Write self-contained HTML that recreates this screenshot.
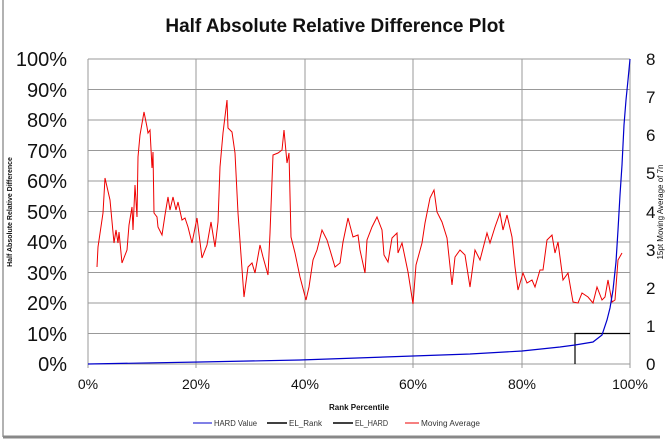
<!DOCTYPE html>
<html><head><meta charset="utf-8"><style>
body{margin:0;background:#fff;}
svg{display:block;font-family:"Liberation Sans",sans-serif;}
</style></head><body>
<svg width="670" height="443" viewBox="0 0 670 443" xmlns="http://www.w3.org/2000/svg">
<rect x="0" y="0" width="670" height="443" fill="#fff"/>
<line x1="3" y1="0" x2="3" y2="437" stroke="#999" stroke-width="1.5"/>
<line x1="3" y1="437" x2="660" y2="437" stroke="#888" stroke-width="3"/>
<text x="335" y="32" text-anchor="middle" font-size="19" font-weight="bold" fill="#111">Half Absolute Relative Difference Plot</text>
<g stroke="#999" stroke-width="1">
<line x1="88" y1="59" x2="630" y2="59"/><line x1="88" y1="89.5" x2="630" y2="89.5"/><line x1="88" y1="120" x2="630" y2="120"/><line x1="88" y1="150.5" x2="630" y2="150.5"/><line x1="88" y1="181" x2="630" y2="181"/><line x1="88" y1="211.5" x2="630" y2="211.5"/><line x1="88" y1="242" x2="630" y2="242"/><line x1="88" y1="272.5" x2="630" y2="272.5"/><line x1="88" y1="303" x2="630" y2="303"/><line x1="88" y1="333.5" x2="630" y2="333.5"/><line x1="88" y1="364" x2="630" y2="364"/>
<line x1="196" y1="59" x2="196" y2="368"/><line x1="305" y1="59" x2="305" y2="368"/><line x1="413" y1="59" x2="413" y2="368"/><line x1="522" y1="59" x2="522" y2="368"/><line x1="630" y1="59" x2="630" y2="368"/><line x1="88" y1="59" x2="88" y2="368"/>
</g>
<g font-size="20" fill="#111" text-anchor="end">
<text x="67" y="66">100%</text><text x="67" y="97">90%</text><text x="67" y="127">80%</text><text x="67" y="158">70%</text><text x="67" y="188">60%</text><text x="67" y="219">50%</text><text x="67" y="249">40%</text><text x="67" y="280">30%</text><text x="67" y="310">20%</text><text x="67" y="341">10%</text><text x="67" y="371">0%</text>
</g>
<g font-size="17" fill="#111">
<text x="646" y="65">8</text><text x="646" y="103">7</text><text x="646" y="141">6</text><text x="646" y="179">5</text><text x="646" y="218">4</text><text x="646" y="256">3</text><text x="646" y="294">2</text><text x="646" y="332">1</text><text x="646" y="370">0</text>
</g>
<g font-size="14" fill="#111" text-anchor="middle">
<text x="88" y="389">0%</text><text x="196" y="389">20%</text><text x="305" y="389">40%</text><text x="413" y="389">60%</text><text x="522" y="389">80%</text><text x="630" y="389">100%</text>
</g>
<text x="359" y="410" text-anchor="middle" font-size="8" font-weight="bold" fill="#111">Rank Percentile</text>
<text transform="translate(12,212) rotate(-90)" text-anchor="middle" font-size="7" font-weight="bold" fill="#111">Half Absolute Relative Difference</text>
<text transform="translate(663,212) rotate(-90)" text-anchor="middle" font-size="8" fill="#111">15pt Moving Average of 7n</text>
<polyline fill="none" stroke="#e00" stroke-width="1" points="97,267 98,247 103,213 105,178 110,200 114,243 116,230 118,243 119,232 122,263 127,250 129,225 132,207 133,230 135,185 137,217 138,157 140,135 144,112 147,127 148,133 150,130 152,168 153,152 154,213 157,217 158,227 162,235 165,215 168,197 170,210 173,197 176,210 178,202 182,220 185,218 188,227 192,243 197,218 202,258 207,245 211,222 215,247 218,222 220,167 223,133 227,100 228,128 232,132 235,153 238,213 244,297 248,267 252,263 255,273 260,245 263,257 268,275 270,233 273,155 278,153 282,150 284,130 287,163 289,153 291,237 295,253 300,277 306,300 309,287 313,260 317,250 322,230 327,240 330,250 335,267 340,263 343,242 348,218 353,237 358,235 360,250 365,273 367,240 372,227 377,217 382,230 384,255 388,262 392,238 397,233 398,253 402,243 408,272 413,304 416,265 422,243 425,223 430,198 434,190 437,212 442,222 447,238 452,285 455,257 460,250 465,255 470,287 475,250 480,260 487,233 490,243 495,227 500,213 503,230 507,215 512,237 515,267 518,290 523,273 527,283 532,280 535,287 540,270 543,270 547,240 552,235 555,253 558,242 563,280 568,273 573,302 578,303 582,293 588,297 593,303 597,287 602,300 605,297 608,280 612,302 615,300 618,260 622,253"/>
<polyline fill="none" stroke="#000" stroke-width="1.2" points="575,364 575,333.5 630,333.5"/>
<polyline fill="none" stroke="#00c" stroke-width="1.2" points="88,364 200,362 300,360 413,356 470,354 522,351 560,347 575,345 593,342 602,335 607,320 610,308 613,290 616,262 618,230 620,195 622,165 624,125 626,100 628,80 630,59"/>
<g font-size="8" fill="#333">
<line x1="193" y1="423" x2="212" y2="423" stroke="#00c"/><text x="214" y="426" textLength="43" lengthAdjust="spacingAndGlyphs">HARD Value</text>
<line x1="267" y1="423" x2="287" y2="423" stroke="#000" stroke-width="1.5"/><text x="289" y="426" textLength="33" lengthAdjust="spacingAndGlyphs">EL_Rank</text>
<line x1="333" y1="423" x2="353" y2="423" stroke="#000" stroke-width="1.5"/><text x="355" y="426" textLength="33" lengthAdjust="spacingAndGlyphs">EL_HARD</text>
<line x1="405" y1="423" x2="419" y2="423" stroke="#e00"/><text x="421" y="426" textLength="59" lengthAdjust="spacingAndGlyphs">Moving Average</text>
</g>
</svg>
</body></html>
